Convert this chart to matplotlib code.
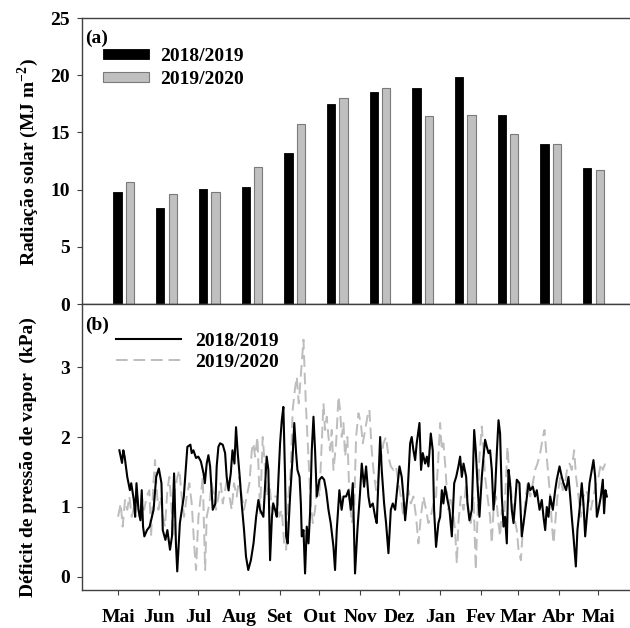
import matplotlib
matplotlib.use("Agg")
import matplotlib.pyplot as plt
import numpy as np

plt.rcParams["font.family"] = ["Liberation Serif", "DejaVu Serif"]
plt.rcParams["font.weight"] = "bold"
plt.rcParams["font.size"] = 14
plt.rcParams["mathtext.fontset"] = "custom"
plt.rcParams["mathtext.rm"] = "Liberation Serif:bold"
plt.rcParams["mathtext.bf"] = "Liberation Serif:bold"

# --- Monthly mean solar radiation (MJ m-2) ---
bar_months = ["Mai", "Jun", "Jul", "Aug", "Set", "Out", "Nov", "Dez", "Jan", "Fev", "Mar", "Abr"]
rad_1819 = [9.77, 8.37, 10.06, 10.2, 13.23, 17.5, 18.52, 18.9, 19.83, 16.54, 13.95, 11.89]
rad_1920 = [10.64, 9.59, 9.83, 11.95, 15.7, 18.0, 18.9, 16.4, 16.54, 14.85, 13.95, 11.74]

# --- Daily vapour pressure deficit (kPa), day 0 = 1 May ---
days_1819 = [
    1, 3, 4, 5, 7, 9, 10, 12, 13, 14, 15.5, 17, 18, 19, 20, 22, 24, 27, 29, 31,
    33, 34, 36, 37.5, 39.5, 41, 42.6, 44, 45, 47, 50, 52.7, 55, 56, 57.3, 59.3, 61, 63, 65, 66,
    67.4, 68.7, 70, 72, 74, 75, 76.3, 77.6, 79.6, 81.4, 82.6, 84, 85.7, 87, 88.5, 89.7, 91, 92.3, 94, 95.8,
    97.3, 99, 101, 103, 105, 106.7,
    108, 110.5, 113, 114.3, 115.6, 117, 118, 119.4, 120.7, 122, 123.2, 124.5, 125.7, 127, 127.8, 129, 130.8, 132.6, 134, 135.4,
    136.4, 138, 139, 139.7, 141, 142.2, 143.5, 144.8, 146, 147.3, 148.6, 149.8, 151.1, 153.1, 155, 156.7, 158.2, 160, 161.7, 163.8,
    165, 166.3, 168.3, 170, 171.4, 173.4, 175.2, 177, 178.5, 180.2, 182, 184, 185.3, 187.1, 188.6, 190.4, 191.7, 193.7, 195.5, 196.7,
    198, 199.3, 200.5, 202.3, 203.8, 205.6, 207.4, 208.9, 210.7, 212.4, 214, 215.7, 217, 218.3, 220, 222.1, 223.3, 224.6, 225.9, 227.1,
    229.2, 230.4, 231.7, 233.5, 234.8, 236, 237.8, 239.3, 240.3, 241.8, 243.6, 244.9,
    246.2, 247.4, 248.7, 250.5, 252, 253.8, 255.6, 257.1, 258.8, 260.1, 261.4, 262.7, 264.7, 265.7, 267.2, 269, 270.8, 272, 273.3, 274.8,
    276.6, 277.9, 279.1, 280.4, 281.7, 282.9, 284.2, 285.5, 286.7, 288, 289.3, 290.5, 291.8, 293.1, 294.3, 295.6, 296.9, 298.1, 299.4, 300.7,
    301.9, 303.2, 305.2, 307, 308.3, 310.3, 312.1, 313.4, 315.4, 317.1, 318.4, 320.5, 322.2, 323.5, 324.8, 326, 327.3, 328.6, 330.6, 332.4,
    333.6, 335.7, 337.4, 338.7, 340.7, 342.5, 343.8, 345, 346.3, 348.1, 349.3, 350.9, 352.6, 353.9, 355.2, 356.9, 358.5, 360.2, 361.5, 362.8,
    364.1, 365.3, 367.1, 368.6, 369.6, 370.6, 371.7,
]
vpd_1819 = [
    1.81, 1.63, 1.81, 1.72, 1.43, 1.24, 1.34, 1.10, 0.86, 1.34, 0.96, 0.81, 1.24, 0.72, 0.58, 0.67, 0.72, 0.96, 1.43, 1.55,
    1.34, 0.67, 0.53, 0.67, 0.39, 0.58, 1.48, 0.48, 0.08, 0.77, 1.15, 1.86, 1.89, 1.77, 1.81, 1.70, 1.72, 1.65, 1.48, 1.34,
    1.62, 1.74, 1.58, 0.96, 1.05, 1.58, 1.86, 1.91, 1.89, 1.77, 1.43, 1.24, 1.48, 1.81, 1.62, 2.14, 1.77, 1.48, 1.05, 0.67,
    0.29, 0.10, 0.24, 0.48, 0.86, 1.10,
    0.96, 0.86, 1.72, 1.53, 0.24, 0.86, 1.05, 0.96, 0.86, 1.43, 1.91, 2.24, 2.43, 1.43, 0.58, 0.48, 1.15, 1.67, 2.20, 1.77,
    1.53, 1.43, 1.05, 0.58, 0.67, 0.05, 0.72, 0.48, 0.91, 1.81, 2.29, 1.81, 1.15, 1.39, 1.43, 1.39, 1.24, 0.96, 0.77, 0.43,
    0.10, 0.67, 1.24, 0.96, 1.15, 1.15, 1.24, 0.96, 1.34, 0.05, 0.67, 1.20, 1.62, 1.29, 1.58, 1.15, 1.00, 1.05, 0.86, 0.77,
    1.39, 2.00, 1.53, 1.05, 0.77, 0.34, 0.96, 1.05, 0.96, 1.29, 1.58, 1.43, 1.15, 0.81, 1.15, 1.91, 2.00, 1.81, 1.67, 1.91,
    2.20, 1.53, 1.77, 1.62, 1.72, 1.58, 2.05, 1.81, 0.96, 0.43, 0.77, 0.86,
    1.24, 1.05, 1.29, 1.10, 0.96, 0.58, 1.34, 1.43, 1.58, 1.72, 1.43, 1.62, 1.43, 1.05, 0.81, 0.96, 2.10, 1.81, 1.34, 0.86,
    1.43, 1.72, 1.96, 1.86, 1.77, 1.81, 1.53, 0.96, 1.24, 1.77, 2.24, 2.05, 1.15, 0.72, 0.86, 0.48, 1.53, 1.34, 0.96, 0.77,
    1.05, 1.39, 1.34, 0.58, 0.77, 1.05, 1.34, 1.24, 1.29, 1.15, 1.24, 0.96, 1.10, 0.86, 0.67, 1.00, 0.86, 1.15, 0.96, 1.24,
    1.39, 1.58, 1.43, 1.34, 1.24, 1.43, 1.15, 0.86, 0.58, 0.15, 0.67, 0.96, 1.34, 1.05, 0.58, 0.96, 1.34, 1.53, 1.67, 1.43,
    0.86, 0.96, 1.15, 1.39, 0.91, 1.24, 1.15,
]

days_1920 = [
    0, 2, 3.5, 5.3, 7, 8.6, 10.4, 12.2, 14.2, 16.2, 18, 19.8, 21.8, 23.8, 25.1, 26.9, 28.1, 29.4, 30.7, 32.4,
    34, 35.7, 37.5, 39, 40.8, 42.1, 43.3, 45.1, 46.6, 48.4, 50.2, 52.2, 54.2, 56, 57.8, 59.3, 61.1, 62.9, 64.4, 66.2,
    67.4, 69.5, 71.2, 73, 74.5, 76.3, 78.1, 79.6, 81.4, 83.1, 84.7, 86.4, 88.2, 90.2, 92.3, 94, 95.8, 97.8, 99.9, 101.7,
    102.9, 104.2, 106,
    108, 110, 111.5, 113.1, 115.1, 116.9, 118.6, 120.7, 122.7, 124.5, 126.3, 127.8, 129.5, 131.3, 132.8, 134.4, 135.9, 137.4, 138.9, 140.2,
    141, 142, 143, 144, 145, 146.5, 148.1, 149.8, 151.6, 153.1, 154.9, 156.2, 157.4, 158.7, 160, 161.2, 162.5, 163.8, 165.8, 167.6,
    168.8, 170.1, 171.4, 172.6, 174.4, 175.9, 177.7, 179.5, 181, 182.8, 184.6, 186.1, 187.9, 189.6, 191.1, 192.9, 194.2, 196.2, 198, 199.8,
    201.8, 203.8, 205.6, 207.4, 209.4, 211.4, 213.2, 215, 217, 219, 220.8, 222.6, 224.6, 226.6, 228.4, 230.2, 232.2, 234.2, 236, 237.8,
    239.8, 241.8, 243.6,
    244.9, 246.2, 247.4, 248.7, 250, 251.2, 252.5, 254.5, 256.3, 257.6, 258.8, 260.6, 262.7, 264.7, 266.5, 268.2, 270.3, 272, 273.3, 274.8,
    276.6, 277.9, 279.1, 280.9, 282.9, 284.2, 285.5, 287.5, 289.3, 290.5, 291.8, 293.6, 295.1, 296.1, 297.6, 299.4, 301.2, 303.2, 304.5, 306.3,
    307.8, 309.5, 311.3, 313.4, 315.4, 317.1, 318.9, 321, 323, 324.3, 325.5, 327.3, 328.6, 329.8, 331.1, 332.4, 334.1, 336.2, 338.2, 340,
    341.7, 343.3, 345, 346.8, 348.3, 350.1, 351.9, 353.9, 355.9, 357.7, 359.5, 361.5, 363.5, 365.3, 367.1, 368.6, 370.4,
]
vpd_1920 = [
    0.86, 1.05, 0.72, 1.10, 0.96, 1.15, 0.86, 1.00, 1.24, 0.86, 1.15, 0.96, 1.15, 1.24, 0.58, 1.34, 1.67, 1.24, 0.96, 1.15,
    0.86, 0.72, 1.24, 1.43, 0.96, 0.58, 1.24, 1.43, 1.53, 1.15, 0.86, 1.15, 1.34, 1.05, 0.48, 0.10, 0.86, 1.15, 1.43, 0.10,
    0.86, 1.05, 1.34, 1.15, 0.96, 1.15, 1.34, 1.05, 1.24, 1.43, 1.15, 0.96, 1.34, 1.15, 1.43, 1.15, 0.96, 1.15, 1.34, 1.81,
    1.91, 1.72, 2.00,
    0.91, 2.00, 1.62, 1.15, 1.34, 0.96, 1.15, 1.15, 0.86, 0.96, 0.48, 0.39, 1.15, 1.53, 2.39, 2.67, 2.86, 2.48, 2.86, 3.19,
    3.39, 2.86, 2.39, 2.00, 1.62, 1.05, 0.77, 0.96, 1.34, 1.15, 1.91, 2.48, 2.10, 2.29, 2.00, 1.81, 2.10, 1.53, 1.91, 2.58,
    2.39, 2.00, 2.20, 1.72, 2.00, 1.15, 0.77, 0.96, 2.00, 2.34, 2.20, 1.91, 2.10, 2.29, 2.39, 1.81, 1.53, 1.24, 1.43, 1.67,
    1.91, 2.00, 1.72, 1.58, 1.53, 1.58, 1.34, 1.15, 0.86, 1.05, 1.24, 1.05, 1.15, 0.86, 0.48, 0.86, 1.15, 0.96, 0.77, 0.86,
    1.05, 1.15, 1.72,
    2.20, 1.81, 1.91, 1.62, 1.24, 0.96, 1.15, 0.96, 0.67, 0.19, 0.77, 1.15, 0.96, 1.34, 0.96, 0.77, 1.15, 0.10, 0.86, 1.72,
    2.15, 1.81, 1.43, 1.15, 0.86, 0.48, 0.96, 1.15, 0.77, 0.58, 0.96, 0.86, 1.43, 1.86, 1.43, 1.15, 0.86, 0.67, 0.39, 0.24,
    0.67, 1.05, 1.34, 1.15, 1.34, 1.53, 1.62, 1.77, 2.00, 2.10, 1.81, 1.43, 1.15, 0.77, 0.48, 0.77, 1.15, 1.43, 1.24, 1.34,
    1.58, 1.62, 1.53, 1.81, 1.43, 1.15, 0.86, 1.15, 1.24, 1.15, 0.96, 1.15, 1.34, 1.43, 1.62, 1.53, 1.62,
]

month_starts = [0, 31, 61, 92, 123, 153, 184, 214, 245, 276, 304, 335, 365]
month_labels = ["Mai", "Jun", "Jul", "Aug", "Set", "Out", "Nov", "Dez", "Jan", "Fev", "Mar", "Abr", "Mai"]

SPINE = "#404040"
GREY_FILL = "#c0c0c0"

fig = plt.figure(figsize=(6.3, 6.28), dpi=100)
ax_a = fig.add_axes([0.1302, 0.5159, 0.8905, 0.4554])
ax_b = fig.add_axes([0.1302, 0.0605, 0.8905, 0.4554])

for ax in (ax_a, ax_b):
    for sp in ax.spines.values():
        sp.set_color(SPINE)
        sp.set_linewidth(1.0)
    ax.spines["right"].set_visible(False)
    ax.tick_params(direction="out", length=3.5, width=0.8, color=SPINE, pad=5, labelsize=14)

# (a) bars
x = np.arange(len(bar_months))
off, w = 0.145, 0.195
ax_a.bar(x - off, rad_1819, width=w, color="black", edgecolor="black", linewidth=0.6, label="2018/2019")
ax_a.bar(x + off, rad_1920, width=w, color=GREY_FILL, edgecolor="#7a7a7a", linewidth=0.8, label="2019/2020")
ax_a.set_xlim(-0.979, 12.16)
ax_a.set_ylim(0, 25)
ax_a.set_yticks([0, 5, 10, 15, 20, 25])
ax_a.set_xticks([])
ax_a.text(0.005, 0.93, "(a)", transform=ax_a.transAxes, ha="left", va="center", fontsize=14)
ax_a.legend(loc="upper left", bbox_to_anchor=(0.037, 0.895), frameon=False, fontsize=14,
            handlelength=2.4, handleheight=0.46, handletextpad=0.55, labelspacing=0.3,
            borderaxespad=0, borderpad=0)

# (b) daily VPD
ax_b.plot(days_1920, vpd_1920, color="#bdbdbd", lw=1.4, dashes=(6, 3), label="2019/2020", zorder=2)
ax_b.plot(days_1819, vpd_1819, color="black", lw=1.5, label="2018/2019", zorder=3)
ax_b.set_xlim(-27.4, 399.2)
ax_b.set_ylim(-0.186, 3.9)
ax_b.set_yticks([0, 1, 2, 3])
ax_b.set_xticks(month_starts)
ax_b.set_xticklabels(month_labels)
ax_b.tick_params(axis="x", pad=10)
ax_b.text(0.005, 0.927, "(b)", transform=ax_b.transAxes, ha="left", va="center", fontsize=14)
h, l = ax_b.get_legend_handles_labels()
ax_b.legend(h[::-1], l[::-1], loc="upper left", bbox_to_anchor=(0.06, 0.902), frameon=False, fontsize=14,
            handlelength=3.35, handletextpad=0.75, labelspacing=0.19, borderaxespad=0, borderpad=0)

fig.text(28 / 630, 1 - 162 / 628, "Radiação solar (MJ m$^{-2}$)", rotation=90,
         ha="center", va="center", fontsize=14)
fig.text(28 / 630, 1 - 457 / 628, "Déficit de pressão de vapor  (kPa)", rotation=90,
         ha="center", va="center", fontsize=14)

fig.savefig("out.png", dpi=100)
